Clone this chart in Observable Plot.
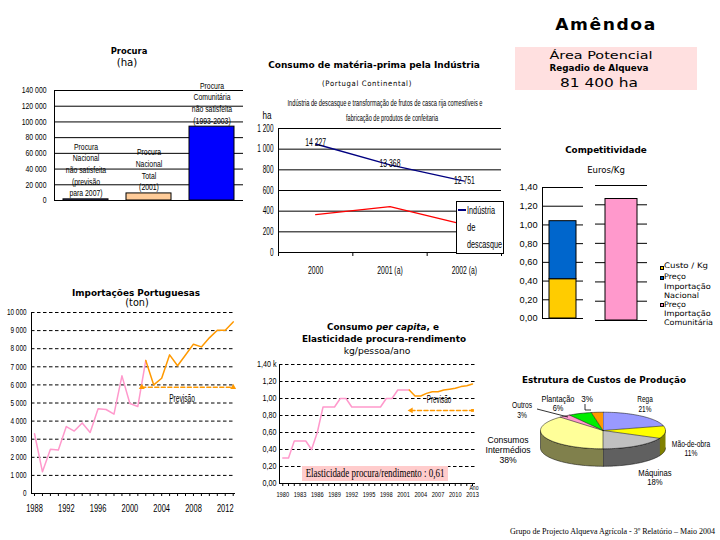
<!DOCTYPE html>
<html><head><meta charset="utf-8">
<script src="https://cdn.jsdelivr.net/npm/d3@7"></script>
<script src="https://cdn.jsdelivr.net/npm/@observablehq/plot@0.6"></script>
<style>
html,body{margin:0;padding:0;background:#fff;}
#root{position:relative;width:720px;height:540px;overflow:hidden;background:#fff;}
#root svg{position:absolute;}
</style></head>
<body><div id="root"></div>
<script>
// ---------- DATA ----------
const procuraCats = ["Nacional não satisfeita", "Nacional Total", "Comunitária não satisfeita"];
const procuraValues = [1500, 9000, 94000];
const procuraLabels = ["Procura\nNacional\nnão satisfeita\n(previsão\npara 2007)", "Procura\nNacional\nTotal\n(2001)", "Procura\nComunitária\nnão satisfeita\n(1993-2003)"];
const procuraColors = ["#9999FF", "#FFCC99", "#0000FF"];
const procuraTicks = [0, 20000, 40000, 60000, 80000, 100000, 120000, 140000];

const matCats = ["2000", "2001 (a)", "2002 (a)"];
const matDescasque = [1050, 847, 690];
const matDescasqueLabels = ["14 227", "13 368", "12 751"];
const matOutra = [366, 443, 270];
const matTicks = [0, 200, 400, 600, 800, 1000, 1200];

const competNacSeries = ["Custo / Kg", "Preço Importação Nacional"];
const competNacValues = [0.42, 0.62];
const competNacColors = ["#FFCC00", "#0066CC"];
const competComValue = 1.26;
const competComColor = "#FF99CC";
const competTicks = [0, 0.2, 0.4, 0.6, 0.8, 1.0, 1.2, 1.4];

const importYearsHist = [1988,1989,1990,1991,1992,1993,1994,1995,1996,1997,1998,1999,2000,2001,2002];
const importHist = [3300,1200,2450,2400,3700,3450,3900,3370,4680,4640,4380,6500,4970,4810,7350];
const importYearsFcst = [2002,2003,2004,2005,2006,2007,2008,2009,2010,2011,2012,2013];
const importFcst = [7350,6000,6370,7660,7060,7650,8250,8100,8600,9020,9020,9480];
const importPrevYears = [2001.5, 2013];
const importPrevValues = [5870, 5870];
const importTicks = [0,1000,2000,3000,4000,5000,6000,7000,8000,9000,10000];
const importYearTicks = d3.range(1988, 2014);
const importYearLabels = [1988,1992,1996,2000,2004,2008,2012];

const capYearsHist = [1980,1981,1982,1983,1984,1985,1986,1987,1988,1989,1990,1991,1992,1993,1994,1995,1996,1997,1998,1999,2000,2001,2002];
const capHist = [0.30,0.30,0.50,0.50,0.50,0.40,0.60,0.90,0.90,0.90,1.00,1.00,0.90,0.90,0.90,0.90,0.90,0.90,1.00,1.00,1.10,1.10,1.10];
const capYearsFcst = [2002,2003,2004,2005,2006,2007,2008,2009,2010,2011,2012,2013];
const capFcst = [1.10,1.03,1.03,1.06,1.08,1.08,1.10,1.11,1.12,1.14,1.15,1.17];
const capPrevYears = [2002.3, 2013];
const capPrevValues = [0.86, 0.86];
const capTicks = [0,0.2,0.4,0.6,0.8,1.0,1.2,1.4];
const capYearTicks = d3.range(1980, 2014);
const capYearLabels = [1980,1983,1986,1989,1992,1995,1998,2001,2004,2007,2010,2013];

const pieNames = ["Rega","Mão-de-obra","Máquinas","Consumos Intermédios","Outros","Plantação",""];
const pieValues = [21, 11, 18, 38, 3, 6, 3];
const pieColors = ["#9999FF","#FFFF00","#C0C0C0","#FFFF99","#FF99CC","#00EE00","#FF9900"];
const pieSides  = ["#4C4C80","#808000","#606060","#80804C","#804C66","#007700","#804C00"];

// ---------- HELPERS ----------
const root = document.getElementById("root");
const SANS = '"DejaVu Sans", Verdana, sans-serif';
const ARIAL = '"Liberation Sans", Arial, sans-serif';
const SERIF = '"Liberation Serif", "Times New Roman", serif';
const loc = d3.formatLocale({decimal: ",", thousands: " ", grouping: [3], currency: ["", ""]});
const fmtK = loc.format(",d");
const fmt2 = loc.format(".2f");
const base = {background: "transparent", fontFamily: ARIAL, fontSize: "9px", color: "#000", overflow: "visible"};

function condense(svg, sx) {
  svg.querySelectorAll("text").forEach(t => {
    const tr = t.getAttribute("transform");
    if (tr) t.setAttribute("transform", tr + ` scale(${sx},1)`);
  });
  return svg;
}
function place(el, x, y) { el.style.left = x + "px"; el.style.top = y + "px"; root.appendChild(el); return el; }
function T(html, x, y, o = {}, parent = root) {
  const d = document.createElement("div");
  d.innerHTML = html;
  const a = o.a || "middle";
  Object.assign(d.style, {
    position: "absolute", left: x + "px", top: y + "px", whiteSpace: "nowrap",
    font: `${o.w || "normal"} ${o.s || 9}px ${o.f || SANS}`,
    letterSpacing: (o.ls || 0) + "px", lineHeight: String(o.lh || 1.15), color: o.c || "#000",
    transformOrigin: a === "start" ? "left center" : a === "end" ? "right center" : "center center",
    textAlign: a === "start" ? "left" : a === "end" ? "right" : "center"
  });
  parent.appendChild(d);
  let s = o.sx || 1;
  if (o.wd) s = o.wd / d.getBoundingClientRect().width;
  d.style.transform = `translate(${a === "start" ? "0" : a === "end" ? "-100%" : "-50%"}, -50%) scaleX(${s})`;
  return d;
}
function box(x, y, w, h, st) {
  const d = document.createElement("div");
  Object.assign(d.style, {position: "absolute", left: x + "px", top: y + "px", width: w + "px", height: h + "px", boxSizing: "border-box"}, st);
  root.appendChild(d);
  return d;
}

// ---------- PROCURA ----------
T("Procura", 129, 51, {w: "bold", s: 8.8, wd: 36.7});
T("(ha)", 127, 63, {s: 10, wd: 20.7});
const procura = procuraCats.map((c, i) => ({cat: c, value: procuraValues[i], label: procuraLabels[i], color: procuraColors[i]}));
place(condense(Plot.plot({
  width: 250, height: 130, marginTop: 10, marginBottom: 10, marginLeft: 54, marginRight: 7,
  style: base,
  x: {domain: procuraCats, paddingInner: 0.286, paddingOuter: 0.143, axis: null},
  y: {domain: [0, 140000]},
  color: {type: "identity"},
  marks: [
    Plot.ruleY(procuraTicks, {stroke: "#000"}),
    Plot.axisY(procuraTicks, {tickSize: 0, tickPadding: 8, tickFormat: fmtK, label: null, fontSize: 8.8}),
    Plot.frame({anchor: "left"}),
    Plot.barY(procura, {x: "cat", y: "value", fill: "color", stroke: "#000"}),
    Plot.text(procura, {x: "cat", y: "value", text: "label", lineAnchor: "bottom", dy: -3, lineHeight: 1.33, fontSize: 8.8})
  ]
}), 0.78), 0, 80);

// ---------- CONSUMO MATÉRIA-PRIMA ----------
T("Consumo de matéria-prima pela Indústria", 374, 65, {w: "bold", s: 8.8, wd: 211.7});
T("(Portugal Continental)", 367, 84, {s: 7.5, ls: 0.7, wd: 90});
T("Indústria de descasque e transformação de frutos de casca rija comestíveis e", 385, 103, {f: ARIAL, s: 9.5, wd: 195});
T("fabricação de produtos de confeitaria", 391.5, 118, {f: ARIAL, s: 9.5, wd: 92});
T("ha", 267, 116, {f: ARIAL, s: 10, wd: 9});
const mat = matCats.map((c, i) => ({x: i + 0.5, cat: c, desc: matDescasque[i], lbl: matDescasqueLabels[i], red: matOutra[i]}));
place(condense(Plot.plot({
  width: 250, height: 170, marginTop: 8, marginBottom: 38, marginLeft: 23, marginRight: 4,
  style: base,
  x: {domain: [0, matCats.length]},
  y: {domain: [0, 1200]},
  marks: [
    Plot.ruleY(matTicks, {stroke: "#000"}),
    Plot.frame({anchor: "left"}),
    Plot.axisY(matTicks, {tickSize: 0, tickPadding: 5, tickFormat: fmtK, label: null, fontSize: 10}),
    Plot.axisX(d3.range(matCats.length + 1), {tickSize: 4, tickFormat: () => "", label: null}),
    Plot.axisX(mat.map(d => d.x), {tickSize: 0, tickPadding: 14, tickFormat: v => matCats[Math.floor(v)], label: null, fontSize: 10.5}),
    Plot.line(mat, {x: "x", y: "red", stroke: "#FF0000", strokeWidth: 1.3}),
    Plot.line(mat, {x: "x", y: "desc", stroke: "#000080", strokeWidth: 1.3}),
    Plot.text(mat, {x: "x", y: "desc", text: "lbl", fontSize: 10.5, dy: -1})
  ]
}), 0.65), 255, 120);
box(456, 201, 48, 53, {border: "1px solid #000", background: "#fff"});
box(458, 209, 8, 1.5, {background: "#000080"});
T("Indústria", 467, 210, {a: "start", f: ARIAL, s: 11, wd: 28});
T("de", 467, 227, {a: "start", f: ARIAL, s: 11, wd: 8.5});
T("descasque", 467, 244, {a: "start", f: ARIAL, s: 11, wd: 35});

// ---------- AMÊNDOA ----------
T("Amêndoa", 606, 25, {w: "bold", s: 16, ls: 1.5, wd: 101.7});
box(515, 47, 182, 43, {background: "#FFE0E0"});
T("Área Potencial", 600.5, 55.5, {s: 11, wd: 103});
T("Regadio de Alqueva", 599, 69, {w: "bold", s: 8.3, wd: 99});
T("81 400 ha", 599, 83, {s: 13, wd: 78});

// ---------- COMPETITIVIDADE ----------
T("Competitividade", 606, 150, {w: "bold", s: 8.8, wd: 81.7});
T("Euros/Kg", 605.5, 171, {s: 8, wd: 37.7});
const competNac = competNacSeries.map((s, i) => ({cat: "Nacional", serie: s, value: competNacValues[i], color: competNacColors[i]}));
place(Plot.plot({
  width: 80, height: 145, marginTop: 7, marginBottom: 7, marginLeft: 37, marginRight: 2,
  style: base,
  x: {domain: ["Nacional"], paddingInner: 0.35, paddingOuter: 0.175, axis: null},
  y: {domain: [0, 1.4]},
  color: {type: "identity"},
  marks: [
    Plot.ruleY(competTicks, {stroke: "#000"}),
    Plot.frame({anchor: "left"}),
    Plot.axisY(competTicks, {tickSize: 0, tickPadding: 5, tickFormat: fmt2, label: null, fontSize: 9.2}),
    Plot.barY(competNac, {x: "cat", y: "value", fill: "color", stroke: "#000"})
  ]
}), 505, 180);
place(Plot.plot({
  width: 60, height: 145, marginTop: 5, marginBottom: 5, marginLeft: 5, marginRight: 3,
  style: base,
  x: {domain: ["Comunitária"], paddingInner: 0.385, paddingOuter: 0.19, axis: null},
  y: {domain: [0, 1.4], axis: null},
  marks: [
    Plot.ruleY(competTicks, {stroke: "#000"}),
    Plot.barY([{cat: "Comunitária", value: competComValue}], {x: "cat", y: "value", fill: competComColor, stroke: "#000"})
  ]
}), 590, 180);
box(660, 266, 3.5, 3.5, {background: competNacColors[0], border: "0.5px solid #000"});
box(660, 276, 3.5, 3.5, {background: competNacColors[1], border: "0.5px solid #000"});
box(660, 303, 3.5, 3.5, {background: competComColor, border: "0.5px solid #000"});
T("Custo / Kg", 664, 266, {a: "start", s: 7.6, wd: 44});
T("Preço", 664, 276.7, {a: "start", s: 7.6, wd: 22});
T("Importação", 664, 286.7, {a: "start", s: 7.6, wd: 46.7});
T("Nacional", 664, 295.7, {a: "start", s: 7.6, wd: 35});
T("Preço", 664, 305, {a: "start", s: 7.6, wd: 22});
T("Importação", 664, 314, {a: "start", s: 7.6, wd: 46.7});
T("Comunitária", 664, 323, {a: "start", s: 7.6, wd: 49});

// ---------- IMPORTAÇÕES ----------
T("Importações Portuguesas", 136, 293, {w: "bold", s: 8.8, wd: 128});
T("(ton)", 136.5, 303, {s: 10, wd: 23.3});
const impH = importYearsHist.map((y, i) => ({year: y, value: importHist[i]}));
const impF = importYearsFcst.map((y, i) => ({year: y, value: importFcst[i]}));
const impP = importPrevYears.map((y, i) => ({year: y, value: importPrevValues[i]}));
place(condense(Plot.plot({
  width: 245, height: 215, marginTop: 7, marginBottom: 27, marginLeft: 31, marginRight: 10,
  style: base,
  x: {domain: [1987.62, 2013.29]},
  y: {domain: [0, 10000]},
  marks: [
    Plot.ruleY(importTicks.filter(v => v > 0), {stroke: "#000", strokeDasharray: "3.5,2.5"}),
    Plot.ruleY([0], {stroke: "#000"}),
    Plot.frame({anchor: "left"}),
    Plot.axisY(importTicks, {tickSize: 0, tickPadding: 5, tickFormat: fmtK, label: null, fontSize: 8.5}),
    Plot.axisX(importYearTicks, {tickSize: 3, tickFormat: () => "", label: null}),
    Plot.axisX(importYearLabels, {tickSize: 0, tickPadding: 11, tickFormat: d => String(d), label: null, fontSize: 10}),
    Plot.line(impH, {x: "year", y: "value", stroke: "#FF99CC", strokeWidth: 1.5}),
    Plot.line(impF, {x: "year", y: "value", stroke: "#FF9900", strokeWidth: 1.5}),
    Plot.line(impP, {x: "year", y: "value", stroke: "#FF9900", strokeWidth: 1.5, strokeDasharray: "4,2.5"}),
    Plot.dot(impP, {x: "year", y: "value", symbol: "triangle", r: 2.2, fill: "#FF9900"})
  ]
}), 0.75), 0, 305);
T("Previsão", 182, 398, {f: ARIAL, s: 10.5, wd: 25.7});

// ---------- CONSUMO PER CAPITA ----------
T("Consumo <i>per capita</i>, e", 383, 327.3, {w: "bold", s: 8.8, wd: 112});
T("Elasticidade procura-rendimento", 383.7, 339.3, {w: "bold", s: 8.8, wd: 164});
T("kg/pessoa/ano", 376.7, 350.7, {s: 9, wd: 66.7});
const capH = capYearsHist.map((y, i) => ({year: y, value: capHist[i]}));
const capF = capYearsFcst.map((y, i) => ({year: y, value: capFcst[i]}));
const capP = capPrevYears.map((y, i) => ({year: y, value: capPrevValues[i]}));
place(condense(Plot.plot({
  width: 225, height: 150, marginTop: 6, marginBottom: 25, marginLeft: 24, marginRight: 5,
  style: base,
  x: {domain: [1979.43, 2013.52]},
  y: {domain: [0, 1.4]},
  marks: [
    Plot.ruleY(capTicks.filter(v => v > 0), {stroke: "#000", strokeDasharray: "3.5,2.5"}),
    Plot.ruleY([0], {stroke: "#000"}),
    Plot.frame({anchor: "left"}),
    Plot.axisY(capTicks, {tickSize: 0, tickPadding: 3, tickFormat: v => v === 1.4 ? fmt2(v) + " k" : fmt2(v), label: null, fontSize: 9.2}),
    Plot.axisX(capYearTicks, {tickSize: 3, tickFormat: () => "", label: null}),
    Plot.axisX(capYearLabels, {tickSize: 0, tickPadding: 8.5, tickFormat: d => String(d), label: null, fontSize: 7.3}),
    Plot.line(capH, {x: "year", y: "value", stroke: "#FF99CC", strokeWidth: 1.5}),
    Plot.line(capF, {x: "year", y: "value", stroke: "#FF9900", strokeWidth: 1.5}),
    Plot.line(capP, {x: "year", y: "value", stroke: "#FF9900", strokeWidth: 1.5, strokeDasharray: "4,2.5"}),
    Plot.dot(capP.slice(0, 1), {x: "year", y: "value", symbol: "triangle", rotate: -90, r: 2.2, fill: "#FF9900"}),
    Plot.dot(capP.slice(1), {x: "year", y: "value", symbol: "square", r: 1.6, fill: "#FF9900"})
  ]
}), 0.78), 255, 358);
T("Previsão", 439, 400, {f: ARIAL, s: 10, wd: 24.3});
T("Ano", 474, 487.5, {f: ARIAL, s: 6.5, wd: 9});
box(302, 466, 146, 15, {background: "#FFCCCC"});
T("Elasticidade procura/rendimento : 0,61", 375, 473.5, {f: SERIF, s: 11.5, wd: 138.7});

// ---------- ESTRUTURA DE CUSTOS ----------
T("Estrutura de Custos de Produção", 604, 380, {w: "bold", s: 8.8, wd: 164});
const D = 0.956;
const arcs = d3.pie().sort(null).value(d => d)(pieValues);
const STEP = Math.PI / 90;
function arcPts(a0, a1, off = 0) {
  const n = Math.max(2, Math.ceil((a1 - a0) / STEP));
  return d3.range(n + 1).map(i => { const a = a0 + (a1 - a0) * i / n; return {x: Math.sin(a), y: Math.cos(a) + off}; });
}
const topRows = arcs.flatMap((a, k) => [{x: 0, y: 0}, ...arcPts(a.startAngle, a.endAngle)].map(p => ({...p, key: k, color: pieColors[k]})));
const wallRows = arcs.flatMap((a, k) => {
  const b0 = Math.max(a.startAngle, Math.PI / 2), b1 = Math.min(a.endAngle, 3 * Math.PI / 2);
  if (b1 <= b0) return [];
  return [...arcPts(b0, b1), ...arcPts(b0, b1, -D).reverse()].map(p => ({...p, key: k, color: pieSides[k]}));
});
const pieBox = document.createElement("div");
Object.assign(pieBox.style, {position: "absolute", left: "480px", top: "385px", width: "240px", height: "110px"});
root.appendChild(pieBox);
const pie = Plot.plot({
  width: 150, height: 84, margin: 0,
  style: {background: "transparent", overflow: "visible"},
  x: {domain: [-1, 1], range: [10, 135], axis: null},
  y: {domain: [-1 - D, 1], range: [65.8, 11.7], axis: null},
  color: {type: "identity"},
  marks: [
    Plot.line(wallRows, {x: "x", y: "y", z: "key", fill: "color", stroke: "#000", strokeWidth: 0.5}),
    Plot.line(topRows, {x: "x", y: "y", z: "key", fill: "color", stroke: "#000", strokeWidth: 0.5})
  ]
});
pie.style.position = "absolute"; pie.style.left = "50px"; pie.style.top = "15px";
pieBox.appendChild(pie);
function PT(txt, x, y, wd) { T(txt, x - 480, y - 385, {f: ARIAL, s: 9.5, lh: 1.05, wd}, pieBox); }
PT("Rega<br>21%", 645, 404, 15.5);
PT("Mão-de-obra<br>11%", 691, 448.5, 38.3);
PT("Máquinas<br>18%", 655, 477.5, 33.3);
PT("Consumos<br>Intermédios<br>38%", 508, 450, 45);
PT("Outros<br>3%", 522, 410, 20);
PT("Plantação<br>6%", 558, 403.5, 33);
PT("3%", 587, 399, 11.7);
const lead = document.createElementNS("http://www.w3.org/2000/svg", "svg");
lead.setAttribute("width", 240); lead.setAttribute("height", 100);
lead.style.position = "absolute"; lead.style.left = "0px"; lead.style.top = "0px";
lead.innerHTML = '<path d="M57,24 L88,32" stroke="#000" stroke-width="0.8" fill="none"/><path d="M105,19 L105,25 L111,25" stroke="#000" stroke-width="0.8" fill="none"/>';
pieBox.appendChild(lead);

// ---------- FOOTER ----------
T("Grupo de Projecto Alqueva Agrícola - 3º Relatório – Maio 2004", 715, 532, {a: "end", f: SERIF, s: 8, wd: 205});
</script>
</body></html>
